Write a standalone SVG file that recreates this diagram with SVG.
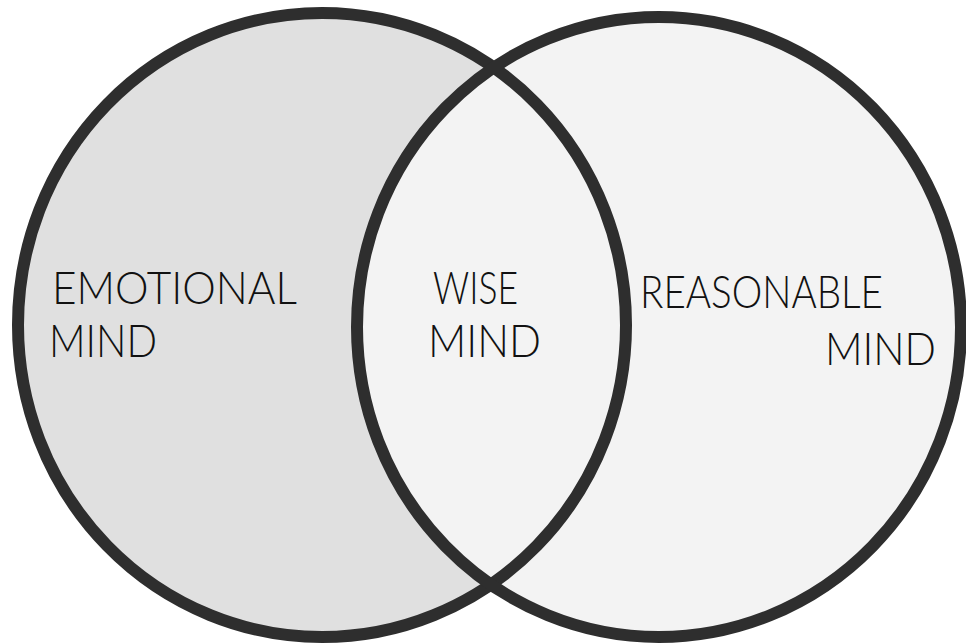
<svg xmlns="http://www.w3.org/2000/svg" width="966" height="644" viewBox="0 0 966 644">
<style>
.ring{fill:none;stroke:#2e2e2e;stroke-width:12}
.lbl{font-family:"Lato","Liberation Sans",sans-serif;font-weight:300;font-size:46px;fill:#111}
</style>
<rect width="966" height="644" fill="#fff"/>
<g id="emotional">
<ellipse cx="322" cy="325" rx="304" ry="312" fill="#e0e0e0"/>
</g>
<g id="reasonable">
<ellipse cx="659" cy="327" rx="302" ry="310" fill="#f3f3f3"/>
</g>
<g id="rings">
<ellipse class="ring" cx="322" cy="325" rx="304" ry="312"/>
<ellipse class="ring" cx="659" cy="327" rx="302" ry="310"/>
</g>
<g id="labels">
<text class="lbl" x="52" y="304" textLength="245" lengthAdjust="spacingAndGlyphs">EMOTIONAL</text>
<text class="lbl" x="49" y="357" textLength="108" lengthAdjust="spacingAndGlyphs">MIND</text>
<text class="lbl" x="433" y="304" textLength="85" lengthAdjust="spacingAndGlyphs">WISE</text>
<text class="lbl" x="428" y="357" textLength="113" lengthAdjust="spacingAndGlyphs">MIND</text>
<text class="lbl" x="640" y="308" textLength="243" lengthAdjust="spacingAndGlyphs">REASONABLE</text>
<text class="lbl" x="825" y="365" textLength="111" lengthAdjust="spacingAndGlyphs">MIND</text>
</g>
</svg>
